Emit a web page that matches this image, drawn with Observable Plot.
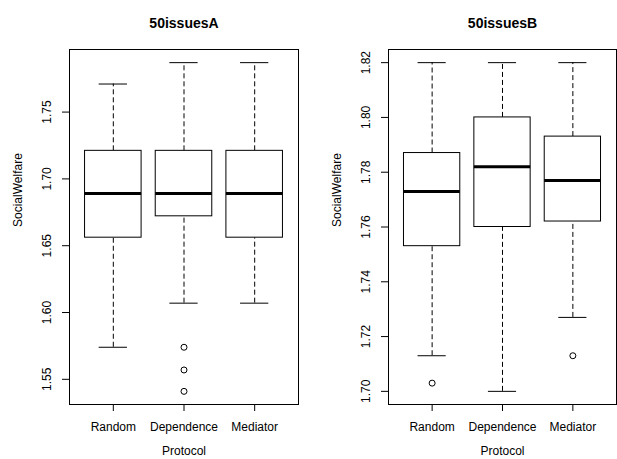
<!DOCTYPE html>
<html>
<head>
<meta charset="utf-8">
<script src="https://cdn.jsdelivr.net/npm/d3@7"></script>
<script src="https://cdn.jsdelivr.net/npm/@observablehq/plot@0.6"></script>
<style>
  html, body { margin: 0; padding: 0; background: #fff; }
  #wrap { position: relative; width: 617px; height: 459px; overflow: hidden; }
  #left, #right { position: absolute; top: 0; }
  #left { left: 0; }
  #right { left: 308px; }
</style>
</head>
<body>
<div id="wrap"><div id="left"></div><div id="right"></div></div>
<script>
const categories = ["Random", "Dependence", "Mediator"];

// Panel A: 50issuesA
const aLowerWhisker = [1.574, 1.607, 1.607];
const aQ1 = [1.656, 1.672, 1.656];
const aMedian = [1.689, 1.689, 1.689];
const aQ3 = [1.721, 1.721, 1.721];
const aUpperWhisker = [1.771, 1.787, 1.787];
const aOutlierCats = ["Dependence", "Dependence", "Dependence"];
const aOutlierValues = [1.574, 1.557, 1.541];
const aTicks = [1.55, 1.60, 1.65, 1.70, 1.75];

// Panel B: 50issuesB
const bLowerWhisker = [1.713, 1.700, 1.727];
const bQ1 = [1.753, 1.760, 1.762];
const bMedian = [1.773, 1.782, 1.777];
const bQ3 = [1.787, 1.800, 1.793];
const bUpperWhisker = [1.820, 1.820, 1.820];
const bOutlierCats = ["Random", "Mediator"];
const bOutlierValues = [1.703, 1.713];
const bTicks = [1.70, 1.72, 1.74, 1.76, 1.78, 1.80, 1.82];

const FONT = "'Liberation Sans', Arial, Helvetica, sans-serif";

function makePanel({title, lower, q1, med, q3, upper, oCats, oVals, ticks, width, marginLeft, marginRight}) {
  const rows = categories.map((c, i) => ({
    cat: c, pos: i + 1, lower: lower[i], q1: q1[i], med: med[i], q3: q3[i], upper: upper[i]
  }));
  const outs = oCats.map((c, i) => ({pos: categories.indexOf(c) + 1, value: oVals[i]}));
  const lo = Math.min(...lower, ...oVals), hi = Math.max(...upper, ...oVals);
  const pad = (hi - lo) * 0.04;
  return Plot.plot({
    width, height: 459,
    marginLeft, marginRight, marginTop: 49, marginBottom: 55,
    style: {fontFamily: FONT, fontSize: "12px", background: "white", color: "black", overflow: "visible"},
    x: {type: "linear", domain: [0.38, 3.62]},
    y: {domain: [lo - pad, hi + pad]},
    marks: [
      Plot.ruleX(rows, {x: "pos", y1: "q3", y2: "upper", stroke: "black", strokeDasharray: "5,3"}),
      Plot.ruleX(rows, {x: "pos", y1: "lower", y2: "q1", stroke: "black", strokeDasharray: "5,3"}),
      Plot.ruleY(rows, {y: "upper", x1: d => d.pos - 0.2, x2: d => d.pos + 0.2, stroke: "black"}),
      Plot.ruleY(rows, {y: "lower", x1: d => d.pos - 0.2, x2: d => d.pos + 0.2, stroke: "black"}),
      Plot.rect(rows, {x1: d => d.pos - 0.4, x2: d => d.pos + 0.4, y1: "q1", y2: "q3", fill: "white", stroke: "black"}),
      Plot.ruleY(rows, {y: "med", x1: d => d.pos - 0.4, x2: d => d.pos + 0.4, stroke: "black", strokeWidth: 3}),
      Plot.dot(outs, {x: "pos", y: "value", r: 3, stroke: "black", fill: "none", strokeWidth: 1}),
      Plot.frame({stroke: "black"}),
      Plot.axisX({ticks: [1, 2, 3], tickFormat: i => categories[i - 1], tickSize: 7, tickPadding: 11, label: null, fontSize: 12}),
      Plot.axisY({ticks, tickFormat: d => d.toFixed(2), tickSize: 7, tickPadding: 12, tickRotate: -90, label: null, fontSize: 12}),
      Plot.text([title], {frameAnchor: "top", dy: -31, fontWeight: "bold", fontSize: 14}),
      Plot.text(["SocialWelfare"], {frameAnchor: "left", dx: -51, rotate: -90, fontSize: 12}),
      Plot.text(["Protocol"], {frameAnchor: "bottom", dy: 50, fontSize: 12})
    ]
  });
}

document.getElementById("left").appendChild(makePanel({
  title: "50issuesA", lower: aLowerWhisker, q1: aQ1, med: aMedian, q3: aQ3, upper: aUpperWhisker,
  oCats: aOutlierCats, oVals: aOutlierValues, ticks: aTicks, width: 308, marginLeft: 69, marginRight: 10
}));
document.getElementById("right").appendChild(makePanel({
  title: "50issuesB", lower: bLowerWhisker, q1: bQ1, med: bMedian, q3: bQ3, upper: bUpperWhisker,
  oCats: bOutlierCats, oVals: bOutlierValues, ticks: bTicks, width: 309, marginLeft: 80, marginRight: 1
}));
</script>
</body>
</html>
